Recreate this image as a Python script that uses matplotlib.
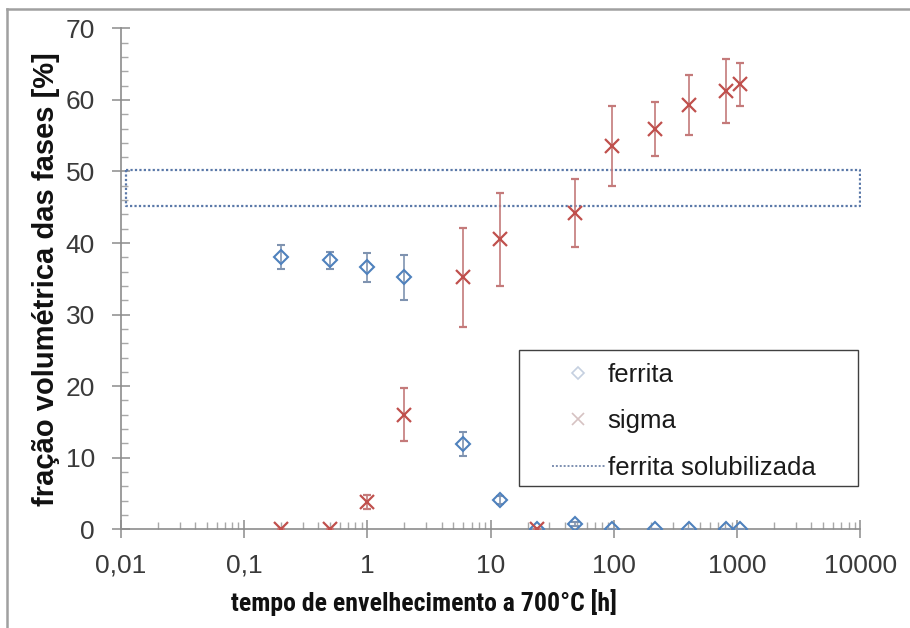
import matplotlib
matplotlib.use("Agg")
import matplotlib.pyplot as plt
from matplotlib.lines import Line2D
from matplotlib.patches import Rectangle
from matplotlib.ticker import FixedLocator, LogLocator, MultipleLocator, NullFormatter

plt.rcParams['font.family'] = ['Liberation Sans', 'DejaVu Sans']

# aging times [h]
ferrita_t = [0.2, 0.5, 1, 2, 6, 12, 24, 48, 96, 216, 408, 816, 1056]
ferrita_v = [38.0, 37.6, 36.6, 35.2, 11.9, 4.1, 0.0, 0.7, 0.1, 0.1, 0.1, 0.1, 0.1]
ferrita_e = [1.7, 1.2, 2.0, 3.1, 1.7, 0.5, 0.0, 0.3, 0.0, 0.0, 0.0, 0.0, 0.0]

sigma_t = [0.2, 0.5, 1, 2, 6, 12, 24, 48, 96, 216, 408, 816, 1056]
sigma_v = [0.0, 0.0, 3.8, 16.0, 35.2, 40.5, 0.0, 44.2, 53.6, 55.9, 59.3, 61.2, 62.2]
sigma_e = [0.0, 0.0, 1.0, 3.7, 6.9, 6.5, 0.0, 4.8, 5.6, 3.8, 4.2, 4.5, 3.0]

# solution-annealed ferrite band (lower / upper limit) over the full time span
solub_t = [0.011, 10000]
solub_lim = [45.2, 50.2]

xticks = [0.01, 0.1, 1, 10, 100, 1000, 10000]
xticklabels = ['0,01', '0,1', '1', '10', '100', '1000', '10000']
yticks = [0, 10, 20, 30, 40, 50, 60, 70]

blue = '#4f81bd'
red = '#c0504d'
grey = '#8c8c8c'

fig = plt.figure(figsize=(9.1, 6.28), dpi=100)
ax = fig.add_axes([120.7 / 910, 1 - 529.3 / 628, (860.5 - 120.7) / 910, (529.3 - 28.3) / 628])

# solution-annealed ferrite band
t0, t1 = solub_t
lo, hi = solub_lim
ax.plot([t0, t1, t1, t0, t0], [hi, hi, lo, lo, hi], ls=(0, (1, 1)), lw=1.6,
        color='#5a78a8', zorder=2)

ax.errorbar(ferrita_t, ferrita_v, yerr=ferrita_e, fmt='D', ms=7, mfc='none',
            mec=blue, mew=1.5, ecolor='#7f93b0', elinewidth=1.2, capsize=3,
            capthick=1.2, zorder=4)
ax.errorbar(sigma_t, sigma_v, yerr=sigma_e, fmt='x', ms=10, color=red, mew=1.6,
            ecolor='#c47a7a', elinewidth=1.2, capsize=3, capthick=1.2, zorder=4)

ax.set_xscale('log')
ax.set_xlim(0.01, 10000)
ax.set_ylim(0, 70)
ax.xaxis.set_major_locator(FixedLocator(xticks))
ax.set_xticklabels(xticklabels)
ax.xaxis.set_minor_locator(LogLocator(base=10, subs=range(2, 10)))
ax.xaxis.set_minor_formatter(NullFormatter())
ax.set_yticks(yticks)
ax.yaxis.set_minor_locator(MultipleLocator(2))

for s in ('top', 'right'):
    ax.spines[s].set_visible(False)
for s in ('left', 'bottom'):
    ax.spines[s].set_color(grey)
    ax.spines[s].set_linewidth(1.2)

ax.tick_params(which='major', direction='inout', length=13, width=1.1,
               color=grey, labelsize=19, labelcolor='#3a3a3a')
ax.tick_params(axis='y', which='major', pad=12)
ax.tick_params(axis='x', which='major', pad=11)
ax.tick_params(which='minor', direction='in', length=5, width=1.0, color='#a8a8a8')

ax.set_xlabel('tempo de envelhecimento a 700°C [h]',
              family=['Roboto Condensed', 'Archivo Narrow', 'Liberation Sans', 'DejaVu Sans'],
              weight='bold', size=18.5, color='#111111')
ax.xaxis.set_label_coords(0.41, -0.119)
ax.set_ylabel('fração volumétrica das fases [%]', labelpad=4,
              family=['Liberation Sans', 'DejaVu Sans'],
              weight='bold', size=21, color='#111111')

handles = [
    Line2D([], [], ls='none', marker='D', ms=6, mfc='none', mec='#c5d0e0', mew=1.2),
    Line2D([], [], ls='none', marker='x', ms=8, color='#d6c2c2', mew=1.2),
    Line2D([], [], ls=(0, (1, 1)), lw=1.4, color='#7d8fb0'),
]
labels = ['ferrita', 'sigma', 'ferrita solubilizada']
leg = fig.legend(handles, labels, loc='upper left',
                 bbox_to_anchor=(552 / 910, 1 - 363 / 628),
                 fontsize=18.5, frameon=False, borderpad=0, labelspacing=0.87,
                 handlelength=2.05, handletextpad=0.12, borderaxespad=0)
for txt in leg.get_texts():
    txt.set_color('#1a1a1a')
# legend frame
fig.add_artist(Rectangle((519 / 910, 1 - 486 / 628), (858 - 519) / 910, (486 - 350) / 628,
                         transform=fig.transFigure, fill=False, ec='#404040', lw=1.0))

# thin frame around the image
fig.add_artist(Line2D([7 / 910, 7 / 910], [0, 1 - 9 / 628], transform=fig.transFigure,
                      color='#a0a0a0', lw=1.8))
fig.add_artist(Line2D([7 / 910, 1], [1 - 9 / 628, 1 - 9 / 628], transform=fig.transFigure,
                      color='#a0a0a0', lw=1.8))

fig.savefig('out.png', dpi=100, facecolor='white')
